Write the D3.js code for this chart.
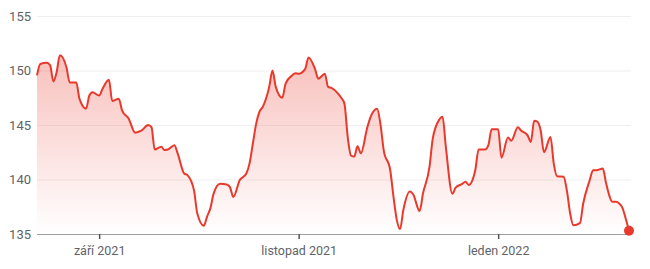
<!DOCTYPE html>
<html>
<head>
<meta charset="utf-8">
<script src="https://cdnjs.cloudflare.com/ajax/libs/d3/7.8.5/d3.min.js"></script>
<style>
  html, body { margin: 0; padding: 0; background: #fff; }
  svg { display: block; font-family: Roboto, "Noto Sans", Arial, sans-serif; }
</style>
</head>
<body>
<div id="chart"></div>
<script>
// dates (trading days) and closing prices
var dates = [
  "2021-08-13","2021-08-14","2021-08-16","2021-08-17","2021-08-18","2021-08-19","2021-08-20",
  "2021-08-22","2021-08-23","2021-08-25","2021-08-26","2021-08-28","2021-08-29","2021-08-30",
  "2021-09-01","2021-09-02","2021-09-04","2021-09-05","2021-09-07","2021-09-08","2021-09-10",
  "2021-09-12","2021-09-14","2021-09-16","2021-09-17","2021-09-18","2021-09-20","2021-09-21",
  "2021-09-22","2021-09-24","2021-09-25","2021-09-27","2021-09-28","2021-09-30","2021-10-01",
  "2021-10-03","2021-10-04","2021-10-05","2021-10-06","2021-10-08","2021-10-10","2021-10-11",
  "2021-10-12","2021-10-14","2021-10-16","2021-10-17","2021-10-18","2021-10-19","2021-10-20",
  "2021-10-21","2021-10-23","2021-10-24","2021-10-25","2021-10-27","2021-10-28","2021-10-30",
  "2021-10-31","2021-11-01","2021-11-03","2021-11-04","2021-11-06","2021-11-07","2021-11-09",
  "2021-11-10","2021-11-11","2021-11-13","2021-11-14","2021-11-15","2021-11-16","2021-11-17",
  "2021-11-18","2021-11-19","2021-11-20","2021-11-22","2021-11-23","2021-11-25","2021-11-26",
  "2021-11-27","2021-11-29","2021-11-30","2021-12-01","2021-12-02","2021-12-03","2021-12-05",
  "2021-12-06","2021-12-08","2021-12-09","2021-12-11","2021-12-12","2021-12-14","2021-12-15",
  "2021-12-16","2021-12-18","2021-12-19","2021-12-21","2021-12-22","2021-12-23","2021-12-25",
  "2021-12-26","2021-12-28","2021-12-29","2021-12-30","2022-01-01","2022-01-02","2022-01-04",
  "2022-01-05","2022-01-07","2022-01-08","2022-01-10","2022-01-11","2022-01-12","2022-01-13",
  "2022-01-14","2022-01-15","2022-01-17","2022-01-18","2022-01-19","2022-01-21","2022-01-22",
  "2022-01-23","2022-01-24","2022-01-26","2022-01-27","2022-01-29","2022-01-30","2022-01-31",
  "2022-02-02","2022-02-03","2022-02-05","2022-02-06","2022-02-07","2022-02-08","2022-02-09",
  "2022-02-10"
];

var prices = [
  149.55, 150.6, 150.7, 150.5, 149.0, 149.85, 151.4,
  150.3, 148.9, 148.9, 147.4, 146.5, 147.7, 148.0,
  147.7, 148.3, 149.15, 147.2, 147.4, 146.35, 145.6,
  144.3, 144.5, 145.0, 144.8, 142.75, 143.0, 142.7,
  142.75, 143.15, 142.4, 140.55, 140.4, 139.0, 136.9,
  135.75, 136.6, 137.35, 138.7, 139.6, 139.55, 139.3,
  138.4, 139.95, 140.55, 141.5, 143.3, 145.1, 146.2,
  146.65, 148.5, 150.0, 148.5, 147.5, 148.8, 149.55,
  149.75, 149.7, 150.15, 151.2, 150.15, 149.25, 149.7,
  148.5, 148.4, 147.9, 147.5, 146.95, 143.9, 142.2,
  142.1, 143.05, 142.4, 144.8, 145.75, 146.5, 145.1,
  142.7, 140.85, 138.4, 136.3, 135.45, 137.2, 138.9,
  138.65, 137.1, 138.7, 141.15, 143.75, 145.5, 145.75,
  143.0, 138.7, 139.25, 139.6, 139.8, 139.5, 140.85,
  142.75, 142.75, 143.15, 144.6, 144.6, 142.0, 143.85,
  143.55, 144.8, 144.5, 144.05, 143.45, 145.4, 145.3,
  144.5, 142.5, 143.9, 141.45, 140.3, 140.25, 139.0,
  136.9, 135.8, 136.0, 137.8, 139.95, 140.85, 140.85,
  141.0, 139.65, 137.95, 137.95, 137.8, 137.4, 136.4,
  135.3
];

var yTicks = [135, 140, 145, 150, 155];
var xTickDates = ["2021-09-01", "2021-11-01", "2022-01-01"];
var xTickLabels = ["září 2021", "listopad 2021", "leden 2022"];

var W = 650, H = 269;
var LEFT = 37, RIGHT = 629, TOP = 16, BOTTOM = 234;
var RED = "#e8392c";

var parse = d3.timeParse("%Y-%m-%d");
var data = dates.map(function(d, i) { return { date: parse(d), value: prices[i] }; });

var x = d3.scaleTime()
    .domain([parse("2021-08-13"), parse("2022-02-10")])
    .range([LEFT, RIGHT]);

var y = d3.scaleLinear()
    .domain([135, 155])
    .range([BOTTOM, TOP]);

var svg = d3.select("#chart").append("svg")
    .attr("width", W)
    .attr("height", H);

// gradient under the line
var grad = svg.append("defs").append("linearGradient")
    .attr("id", "fade")
    .attr("gradientUnits", "userSpaceOnUse")
    .attr("x1", 0).attr("x2", 0)
    .attr("y1", y(151.5)).attr("y2", BOTTOM);
grad.append("stop").attr("offset", 0).attr("stop-color", RED).attr("stop-opacity", 0.32);
grad.append("stop").attr("offset", 1).attr("stop-color", RED).attr("stop-opacity", 0.0);

// horizontal grid + y labels
var yAxis = d3.axisLeft(y)
    .tickValues(yTicks)
    .tickSize(-(RIGHT + 2 - LEFT))
    .tickPadding(6);

var gy = svg.append("g")
    .attr("transform", "translate(" + LEFT + ",0)")
    .call(yAxis);
gy.select(".domain").remove();
gy.selectAll(".tick line")
    .attr("stroke", "#efefef")
    .attr("stroke-width", 1);
gy.selectAll(".tick text")
    .attr("fill", "#5f6368")
    .attr("font-size", 13)
    .attr("font-family", "Roboto, sans-serif");
gy.selectAll(".tick").filter(function(d) { return d === 135; }).select("line").remove();

// area + line
var curve = d3.curveMonotoneX;

svg.append("path")
    .datum(data)
    .attr("fill", "url(#fade)")
    .attr("d", d3.area()
        .x(function(d) { return x(d.date); })
        .y0(BOTTOM)
        .y1(function(d) { return y(d.value); })
        .curve(curve));

// baseline x axis
var xAxis = d3.axisBottom(x)
    .tickValues(xTickDates.map(parse))
    .tickSize(5)
    .tickPadding(7)
    .tickFormat(function(d, i) { return xTickLabels[i]; });

var gx = svg.append("g")
    .attr("transform", "translate(0," + BOTTOM + ")")
    .call(xAxis);
gx.select(".domain")
    .attr("d", "M" + LEFT + ",0.5H" + (RIGHT + 2))
    .attr("stroke", "#9e9e9e")
    .attr("stroke-width", 1.2);
gx.selectAll(".tick line")
    .attr("stroke", "#555")
    .attr("stroke-width", 1.5);
gx.selectAll(".tick text")
    .attr("fill", "#5f6368")
    .attr("font-size", 12.5)
    .attr("font-family", "Roboto, sans-serif");

svg.append("path")
    .datum(data)
    .attr("fill", "none")
    .attr("stroke", RED)
    .attr("stroke-width", 2)
    .attr("stroke-linejoin", "round")
    .attr("d", d3.line()
        .x(function(d) { return x(d.date); })
        .y(function(d) { return y(d.value); })
        .curve(curve));

// last point marker
var last = data[data.length - 1];
svg.append("circle")
    .attr("cx", x(last.date))
    .attr("cy", y(last.value))
    .attr("r", 5)
    .attr("fill", RED);
</script>
</body>
</html>
